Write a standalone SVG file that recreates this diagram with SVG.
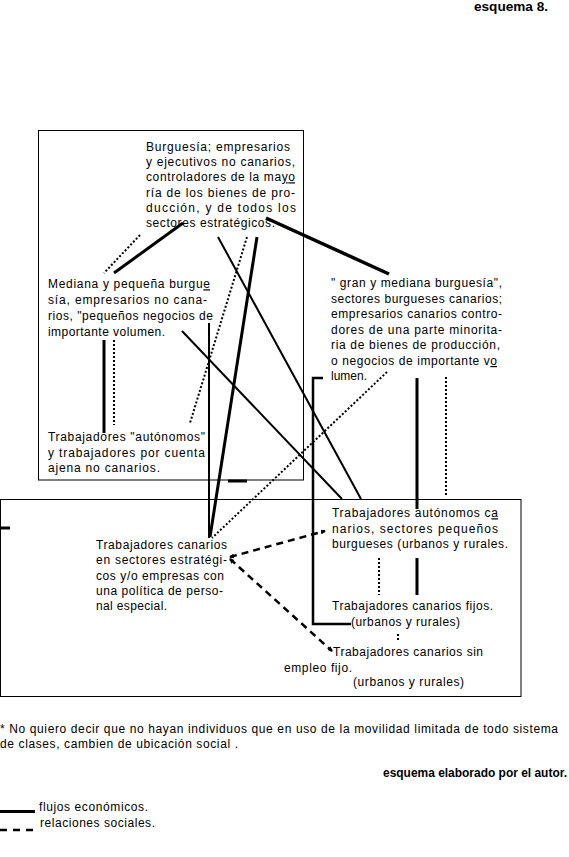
<svg xmlns="http://www.w3.org/2000/svg" width="569" height="857" viewBox="0 0 569 857">
<defs>
<style>
text{font-family:"Liberation Sans",Arial,sans-serif;font-size:12px;fill:#000}
.b{font-weight:bold;font-size:12px}
.box{fill:none;stroke:#000;stroke-width:1}
.thick{stroke:#000;stroke-width:3;fill:none}
.thin{stroke:#000;stroke-width:2;fill:none}
.dot{stroke:#000;stroke-width:2;stroke-dasharray:2 2;fill:none}
.dash{stroke:#000;stroke-width:2.5;stroke-dasharray:7 5;fill:none;marker-start:url(#ah);marker-end:url(#ah)}
</style>
<marker id="ah" viewBox="0 0 6 6" refX="5" refY="3" markerWidth="5" markerHeight="5" markerUnits="userSpaceOnUse" orient="auto-start-reverse">
<path d="M0,0 L6,3 L0,6 z" fill="#000"/>
</marker>
</defs>
<rect width="569" height="857" fill="#fff"/>
<text class="b" x="474" y="11" textLength="74" lengthAdjust="spacingAndGlyphs">esquema 8.</text>
<rect class="box" x="38.5" y="130.5" width="265" height="349.5"/>
<rect class="box" x="0.5" y="499.5" width="520.5" height="197"/>
<g id="connectors">
<line class="thick" x1="183" y1="223" x2="114" y2="273" stroke-width="2.5"/>
<line class="thick" x1="266" y1="218" x2="389" y2="274" style="stroke-width:3.5"/>
<line class="thick" x1="257" y1="237" x2="210" y2="537"/>
<line class="thick" x1="104" y1="340" x2="104" y2="433"/>
<line class="thick" x1="228" y1="481" x2="247" y2="481"/>
<line class="thick" x1="417" y1="378" x2="417" y2="509"/>
<line class="thick" x1="417" y1="558" x2="417" y2="595"/>
<line class="thick" x1="0" y1="528" x2="10" y2="528"/>
<polyline class="thick" style="stroke-width:2.5" points="323,378 313,378 313,624 351,624"/>
<line class="thin" x1="218" y1="237" x2="361" y2="499"/>
<line class="thin" x1="182" y1="331" x2="342" y2="499"/>
<line class="thin" x1="209" y1="323" x2="209" y2="538"/>
<line class="dot" x1="140" y1="235" x2="104" y2="273"/>
<line class="dot" x1="247" y1="237" x2="190" y2="423"/>
<line class="dot" x1="114" y1="340" x2="114" y2="425"/>
<line class="dot" x1="387" y1="372" x2="212" y2="538"/>
<line class="dot" x1="446" y1="377" x2="446" y2="496"/>
<line class="dot" x1="379" y1="558" x2="379" y2="595"/>
<line class="dot" x1="398" y1="634" x2="398" y2="642"/>
<line class="dash" x1="230" y1="557" x2="325" y2="531"/>
<line class="dash" x1="230" y1="559" x2="332" y2="651"/>
</g>
<g id="n_burguesia">
<text x="146" y="150.5" textLength="144" lengthAdjust="spacing">Burguesía;  empresarios</text>
<text x="146" y="166" textLength="149" lengthAdjust="spacing">y ejecutivos no canarios,</text>
<text x="146" y="181.3" textLength="149" lengthAdjust="spacing">controladores de la ma<tspan text-decoration="underline">yo</tspan></text>
<text x="146" y="196.6" textLength="149" lengthAdjust="spacing">ría de los bienes  de pro-</text>
<text x="146" y="212" textLength="150" lengthAdjust="spacing">ducción, y de todos los</text>
<text x="146" y="227.3" textLength="129" lengthAdjust="spacing">sectores estratégicos.</text>
</g>
<g id="n_mediana">
<text x="48" y="288.3" textLength="162" lengthAdjust="spacing">Mediana y pequeña burgu<tspan text-decoration="underline">e</tspan></text>
<text x="48" y="304.3" textLength="159" lengthAdjust="spacing">sía, empresarios  no  cana-</text>
<text x="48" y="320" textLength="165" lengthAdjust="spacing">rios, "pequeños negocios de</text>
<text x="48" y="335.7" textLength="117" lengthAdjust="spacing">importante volumen.</text>
</g>
<g id="n_autonomos_nc">
<text x="48" y="441" textLength="157" lengthAdjust="spacing">Trabajadores "autónomos"</text>
<text x="48" y="456.5" textLength="157" lengthAdjust="spacing">y trabajadores  por  cuenta</text>
<text x="48" y="472" textLength="112" lengthAdjust="spacing">ajena no canarios.</text>
</g>
<g id="n_gran">
<text x="331" y="287.3" textLength="171" lengthAdjust="spacing">" gran y mediana burguesía",</text>
<text x="331" y="302.7" textLength="171" lengthAdjust="spacing">sectores burgueses canarios;</text>
<text x="331" y="318.3" textLength="171" lengthAdjust="spacing">empresarios canarios contro-</text>
<text x="331" y="334" textLength="171" lengthAdjust="spacing">dores  de una parte minorita-</text>
<text x="331" y="349.3" textLength="169" lengthAdjust="spacing">ria de bienes de producción,</text>
<text x="331" y="365" textLength="166" lengthAdjust="spacing">o negocios de importante v<tspan text-decoration="underline">o</tspan></text>
<text x="331" y="380" textLength="36" lengthAdjust="spacing">lumen.</text>
</g>
<g id="n_estrategicos">
<text x="96" y="549" textLength="131" lengthAdjust="spacing">Trabajadores canarios</text>
<text x="96" y="564.3" textLength="131" lengthAdjust="spacing">en  sectores  estratégi-</text>
<text x="96" y="580" textLength="128" lengthAdjust="spacing">cos y/o empresas con</text>
<text x="96" y="595" textLength="127" lengthAdjust="spacing">una política de perso-</text>
<text x="96" y="610" textLength="71" lengthAdjust="spacing">nal especial.</text>
</g>
<g id="n_autonomos_c">
<text x="332" y="517.3" textLength="166" lengthAdjust="spacing">Trabajadores autónomos c<tspan text-decoration="underline">a</tspan></text>
<text x="332" y="533" textLength="166" lengthAdjust="spacing">narios,   sectores  pequeños</text>
<text x="332" y="548.3" textLength="176" lengthAdjust="spacing">burgueses (urbanos y rurales.</text>
</g>
<g id="n_fijos">
<text x="332" y="610" textLength="161" lengthAdjust="spacing">Trabajadores canarios fijos.</text>
<text x="351" y="625.7" textLength="109" lengthAdjust="spacing">(urbanos y rurales)</text>
</g>
<g id="n_sinempleo">
<text x="333" y="656" textLength="150" lengthAdjust="spacing">Trabajadores canarios sin</text>
<text x="284" y="671.7" textLength="68" lengthAdjust="spacing">empleo fijo.</text>
<text x="353" y="685.5" textLength="111" lengthAdjust="spacing">(urbanos y rurales)</text>
</g>
<g id="footnote">
<text x="0" y="733" textLength="558" lengthAdjust="spacing">* No quiero decir que no hayan individuos que en uso de la movilidad limitada de todo sistema</text>
<text x="0" y="748" textLength="238" lengthAdjust="spacing">de clases, cambien de ubicación social .</text>
<text class="b" x="383" y="777" textLength="184" lengthAdjust="spacingAndGlyphs">esquema elaborado por el autor.</text>
</g>
<g id="legend">
<line x1="0" y1="811.5" x2="35" y2="811.5" stroke="#000" stroke-width="3"/>
<text x="39" y="811" textLength="109" lengthAdjust="spacing">flujos económicos.</text>
<line x1="0" y1="830" x2="35" y2="830" stroke="#000" stroke-width="2.5" stroke-dasharray="7 6"/>
<text x="40" y="827" textLength="115" lengthAdjust="spacing">relaciones sociales.</text>
</g>
</svg>
